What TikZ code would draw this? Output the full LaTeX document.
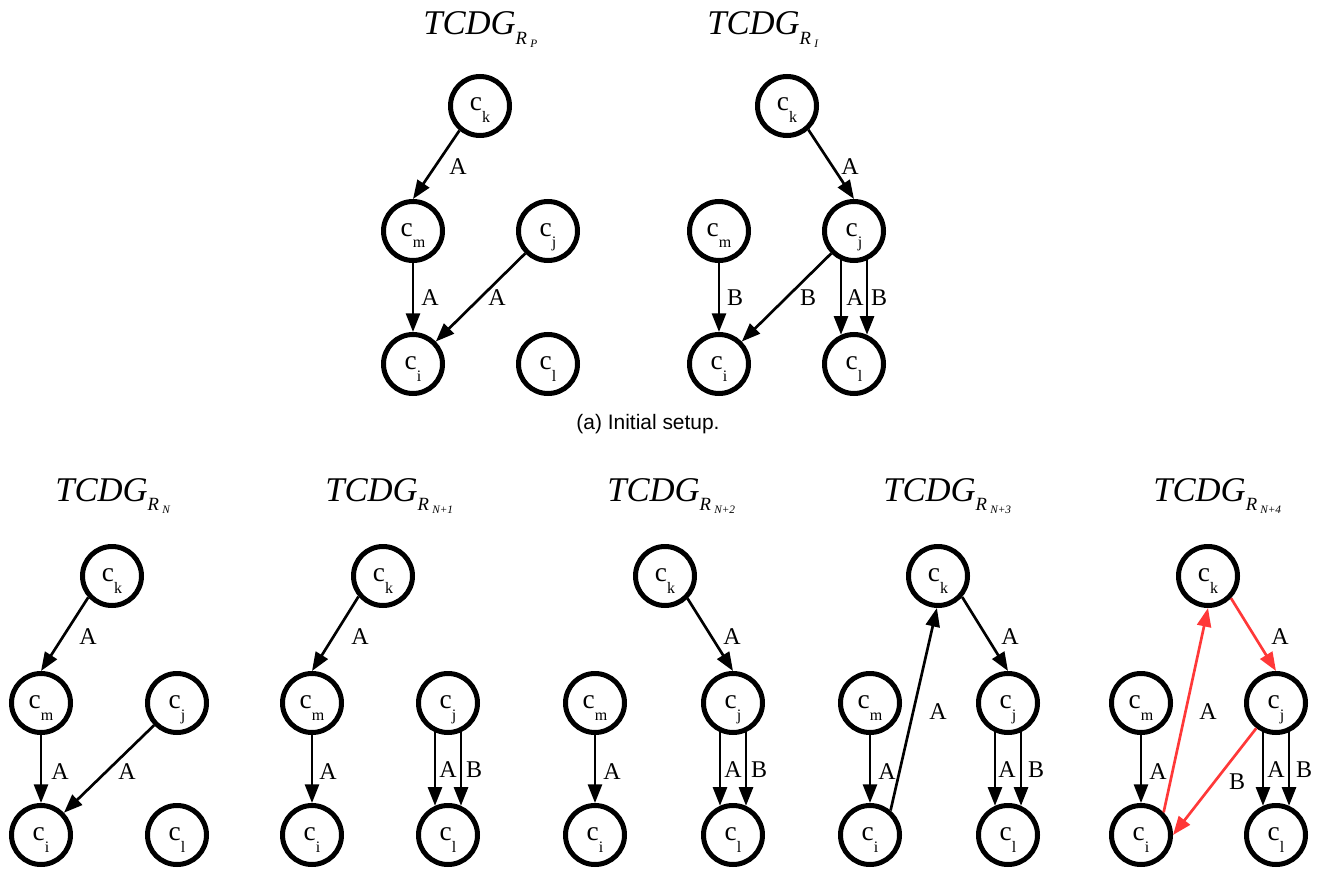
\documentclass[tikz,border=0pt]{standalone}
\usepackage{fontspec}
\setmainfont{Liberation Serif}
\setsansfont{Liberation Sans}
\usetikzlibrary{arrows.meta}

\definecolor{hlred}{RGB}{255,56,56}
\newcommand{\cname}[1]{c\raisebox{-9pt}{\fontsize{12}{12}\selectfont #1}}
\newcommand{\tcdg}[1]{{\fontsize{26}{26}\selectfont\itshape TCDG}\raisebox{-7pt}{\fontsize{14}{14}\selectfont\itshape R\,\raisebox{-2.5pt}{\fontsize{8.5}{8.5}\selectfont #1}}}

\begin{document}
\begin{tikzpicture}[x=0.75pt,y=-0.75pt,
  cls/.style={circle,draw,line width=3.75pt,minimum size=44.25pt,inner sep=0pt,
    text height=16.5pt,text depth=9pt,font=\fontsize{20.5}{20.5}\selectfont},
  dep/.style={line width=2pt,-{Triangle[length=14pt,width=10.5pt]}},
  hot/.style={dep,draw=hlred},
  lbl/.style={inner sep=0pt,font=\fontsize{18}{18}\selectfont},
  ttl/.style={anchor=base west,inner sep=0pt}]
\useasboundingbox (0,0) rectangle (1328,870);

% titles
\node[ttl] (tp) at (423,35) {\tcdg{P}};
\node[ttl] (ti) at (707,35) {\tcdg{I}};
\node[ttl] (t0) at (55,501) {\tcdg{N}};
\node[ttl] (t1) at (325,501) {\tcdg{N+1}};
\node[ttl] (t2) at (607,501) {\tcdg{N+2}};
\node[ttl] (t3) at (883,501) {\tcdg{N+3}};
\node[ttl] (t4) at (1153,501) {\tcdg{N+4}};
\node[anchor=base,inner sep=0pt,font=\sffamily\fontsize{15.7}{16}\selectfont] (cap) at (648,429) {(a) Initial setup.};

% R_P
\node[cls] (pk) at (480,106) {\cname{k}};
\node[cls] (pm) at (413,231) {\cname{m}};
\node[cls] (pj) at (548,231) {\cname{j}};
\node[cls] (pi) at (413,364) {\cname{i}};
\node[cls] (pl) at (548,364) {\cname{l}};
\draw[dep] (pk.-130) -- (pm.north);
\draw[dep] (pm) -- (pi);
\draw[dep] (pj) -- (pi);
\node[lbl] (pa1) at (458,167) {A};
\node[lbl] (pa2) at (430,298) {A};
\node[lbl] (pa3) at (497,298) {A};

% R_I
\node[cls] (ik) at (787,106) {\cname{k}};
\node[cls] (im) at (719,231) {\cname{m}};
\node[cls] (ij) at (854,231) {\cname{j}};
\node[cls] (ii) at (719,364) {\cname{i}};
\node[cls] (il) at (854,364) {\cname{l}};
\draw[dep] (ik.-48) -- (ij.north);
\draw[dep] (im) -- (ii);
\draw[dep] (ij) -- (ii);
\draw[dep] (ij.-114) -- (il.114);
\draw[dep] (ij.-66) -- (il.66);
\node[lbl] (ia1) at (850,167) {A};
\node[lbl] (ib1) at (735,298) {B};
\node[lbl] (ib2) at (808,298) {B};
\node[lbl] (ia2) at (855,298) {A};
\node[lbl] (ib3) at (879,298) {B};

% R_N
\node[cls] (n0k) at (112,576) {\cname{k}};
\node[cls] (n0m) at (41,703) {\cname{m}};
\node[cls] (n0j) at (177,703) {\cname{j}};
\node[cls] (n0i) at (41,835) {\cname{i}};
\node[cls] (n0l) at (177,835) {\cname{l}};
\draw[dep] (n0k.-138) -- (n0m.north);
\draw[dep] (n0m) -- (n0i);
\draw[dep] (n0j) -- (n0i);
\node[lbl] (n0a1) at (88,637) {A};
\node[lbl] (n0a2) at (60,772) {A};
\node[lbl] (n0a3) at (127,772) {A};

% R_{N+1}
\node[cls] (n1k) at (383,576) {\cname{k}};
\node[cls] (n1m) at (312,703) {\cname{m}};
\node[cls] (n1j) at (448,703) {\cname{j}};
\node[cls] (n1i) at (312,835) {\cname{i}};
\node[cls] (n1l) at (448,835) {\cname{l}};
\draw[dep] (n1k.-140) -- (n1m.north);
\draw[dep] (n1m) -- (n1i);
\draw[dep] (n1j.-114) -- (n1l.114);
\draw[dep] (n1j.-66) -- (n1l.66);
\node[lbl] (n1a1) at (360,637) {A};
\node[lbl] (n1a2) at (328,772) {A};
\node[lbl] (n1a3) at (448,770) {A};
\node[lbl] (n1b1) at (474,770) {B};

% R_{N+2}
\node[cls] (n2k) at (665,576) {\cname{k}};
\node[cls] (n2m) at (595,703) {\cname{m}};
\node[cls] (n2j) at (733,703) {\cname{j}};
\node[cls] (n2i) at (595,835) {\cname{i}};
\node[cls] (n2l) at (733,835) {\cname{l}};
\draw[dep] (n2k.-45) -- (n2j.north);
\draw[dep] (n2m) -- (n2i);
\draw[dep] (n2j.-114) -- (n2l.114);
\draw[dep] (n2j.-66) -- (n2l.66);
\node[lbl] (n2a1) at (732,637) {A};
\node[lbl] (n2a2) at (612,772) {A};
\node[lbl] (n2a3) at (733,770) {A};
\node[lbl] (n2b1) at (759,770) {B};

% R_{N+3}
\node[cls] (n3k) at (938,576) {\cname{k}};
\node[cls] (n3m) at (870,703) {\cname{m}};
\node[cls] (n3j) at (1008,703) {\cname{j}};
\node[cls] (n3i) at (870,835) {\cname{i}};
\node[cls] (n3l) at (1008,835) {\cname{l}};
\draw[dep] (n3k.-41) -- (n3j.north);
\draw[dep] (n3i.50) -- (n3k.-92);
\draw[dep] (n3m) -- (n3i);
\draw[dep] (n3j.-114) -- (n3l.114);
\draw[dep] (n3j.-66) -- (n3l.66);
\node[lbl] (n3a1) at (1010,637) {A};
\node[lbl] (n3a2) at (938,712) {A};
\node[lbl] (n3a3) at (887,772) {A};
\node[lbl] (n3a4) at (1007,770) {A};
\node[lbl] (n3b1) at (1036,770) {B};

% R_{N+4}
\node[cls] (n4k) at (1208,576) {\cname{k}};
\node[cls] (n4m) at (1141,703) {\cname{m}};
\node[cls] (n4j) at (1276,703) {\cname{j}};
\node[cls] (n4i) at (1141,835) {\cname{i}};
\node[cls] (n4l) at (1276,835) {\cname{l}};
\draw[hot] (n4k.-44) -- (n4j.north);
\draw[hot] (n4i.45) -- (n4k.-90);
\draw[hot] (n4j.-128) -- (n4i.east);
\draw[dep] (n4m) -- (n4i);
\draw[dep] (n4j.-114) -- (n4l.114);
\draw[dep] (n4j.-66) -- (n4l.66);
\node[lbl] (n4a1) at (1280,637) {A};
\node[lbl] (n4a2) at (1208,712) {A};
\node[lbl] (n4a3) at (1158,772) {A};
\node[lbl] (n4b1) at (1237,782) {B};
\node[lbl] (n4a4) at (1276,770) {A};
\node[lbl] (n4b2) at (1304,770) {B};
\end{tikzpicture}
\end{document}
